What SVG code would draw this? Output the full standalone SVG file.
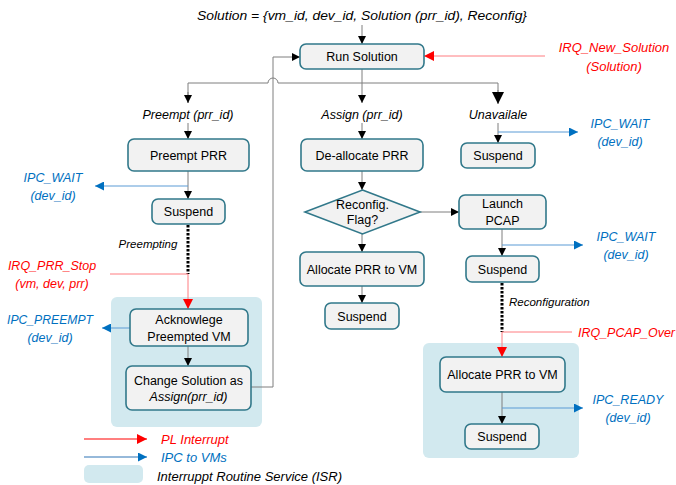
<svg xmlns="http://www.w3.org/2000/svg" width="676" height="485" viewBox="0 0 676 485">
<style>
text{font-family:"Liberation Sans",Arial,sans-serif;font-size:12.5px;fill:#000}
.c{text-anchor:middle}
.i{font-style:italic}
.red{fill:#ff0000}
.blue{fill:#0070c0}
.box{fill:#f2f2f2;stroke:#31788a;stroke-width:1.6}
.isr{fill:#d2e9ef}
.ln{fill:none;stroke:#7f7f7f;stroke-width:1}
.rl{fill:none;stroke:#ff7c80;stroke-width:1}
.bl{fill:none;stroke:#5b9bd5;stroke-width:1}
.dot{fill:none;stroke:#000;stroke-width:3;stroke-dasharray:2.5,1.5}
</style>
<defs>
<marker id="ab" viewBox="0 0 10 10" refX="10" refY="5" markerWidth="8" markerHeight="8" markerUnits="userSpaceOnUse" orient="auto"><path d="M0,0L10,5L0,10z" fill="#000"/></marker>
<marker id="abL" viewBox="0 0 10 10" refX="10" refY="5" markerWidth="12" markerHeight="12" markerUnits="userSpaceOnUse" orient="auto"><path d="M0,0L10,5L0,10z" fill="#000"/></marker>
<marker id="ar" viewBox="0 0 10 10" refX="10" refY="5" markerWidth="10" markerHeight="10" markerUnits="userSpaceOnUse" orient="auto"><path d="M0,0L10,5L0,10z" fill="#ff0000"/></marker>
<marker id="abl" viewBox="0 0 10 10" refX="10" refY="5" markerWidth="9" markerHeight="9" markerUnits="userSpaceOnUse" orient="auto"><path d="M0,0L10,5L0,10z" fill="#0070c0"/></marker>
</defs>

<g id="isr-bg">
<rect class="isr" x="111" y="297" width="151" height="130" rx="6"/>
<rect class="isr" x="423" y="343" width="156" height="115" rx="6"/>
</g>

<g id="connectors">
<line class="ln" x1="362" y1="25" x2="362" y2="44" marker-end="url(#ab)"/>
<line class="ln" x1="362" y1="69" x2="362" y2="83"/>
<path class="ln" d="M188,103 V83 H268 A5,5 0 0 1 278,83 H498 V103" />
<line class="ln" x1="188" y1="92" x2="188" y2="103" marker-end="url(#ab)"/>
<line class="ln" x1="362" y1="83" x2="362" y2="103" marker-end="url(#ab)"/>
<line class="ln" x1="498" y1="90" x2="498" y2="104" marker-end="url(#abL)"/>
<line class="ln" x1="188" y1="123" x2="188" y2="139" marker-end="url(#ab)"/>
<line class="ln" x1="362" y1="123" x2="362" y2="139" marker-end="url(#ab)"/>
<line class="ln" x1="498" y1="123" x2="498" y2="143" marker-end="url(#ab)"/>
<line class="ln" x1="188" y1="171" x2="188" y2="199" marker-end="url(#ab)"/>
<line class="dot" x1="188" y1="225" x2="188" y2="274"/>
<line class="rl" x1="188" y1="274" x2="188" y2="309" marker-end="url(#ar)"/>
<line class="rl" x1="110" y1="274" x2="188" y2="274"/>
<line class="ln" x1="188" y1="346" x2="188" y2="366" marker-end="url(#ab)"/>
<path class="ln" d="M251,387 H273 V57 H300" marker-end="url(#ab)"/>
<line class="ln" x1="362" y1="171" x2="362" y2="190" marker-end="url(#ab)"/>
<line class="ln" x1="420" y1="212" x2="459" y2="212" marker-end="url(#ab)"/>
<line class="ln" x1="362" y1="234" x2="362" y2="252" marker-end="url(#ab)"/>
<line class="ln" x1="362" y1="286" x2="362" y2="303" marker-end="url(#ab)"/>
<line class="ln" x1="502" y1="229" x2="502" y2="256" marker-end="url(#ab)"/>
<line class="dot" x1="502" y1="283" x2="502" y2="332"/>
<line class="rl" x1="502" y1="332" x2="502" y2="357" marker-end="url(#ar)"/>
<line class="rl" x1="502" y1="332" x2="572" y2="332"/>
<line class="ln" x1="502" y1="392" x2="502" y2="424" marker-end="url(#ab)"/>
<line class="rl" x1="545" y1="56" x2="424" y2="56" marker-end="url(#ar)"/>
<line class="bl" x1="498" y1="132" x2="578" y2="132" marker-end="url(#abl)"/>
<line class="bl" x1="188" y1="186" x2="95" y2="186" marker-end="url(#abl)"/>
<line class="bl" x1="130" y1="328" x2="102" y2="328" marker-end="url(#abl)"/>
<line class="bl" x1="502" y1="245" x2="583" y2="245" marker-end="url(#abl)"/>
<line class="bl" x1="502" y1="408" x2="583" y2="408" marker-end="url(#abl)"/>
</g>

<g id="title"><text class="c i" x="362" y="20" textLength="330" lengthAdjust="spacingAndGlyphs" style="font-size:13px">Solution = {vm_id, dev_id, Solution (prr_id), Reconfig}</text></g>

<g id="run-solution"><rect class="box" x="300" y="44" width="124" height="25" rx="6"/><text class="c" x="362" y="61">Run Solution</text></g>

<g id="labels-branch">
<text class="c i" x="188" y="119">Preempt (prr_id)</text>
<text class="c i" x="362" y="119">Assign (prr_id)</text>
<text class="c i" x="498" y="119">Unavailale</text>
</g>

<g id="preempt-prr"><rect class="box" x="128" y="139" width="121" height="32" rx="6"/><text class="c" x="188.5" y="159.5">Preempt PRR</text></g>
<g id="suspend-left"><rect class="box" x="152" y="199" width="73" height="25" rx="6"/><text class="c" x="188.5" y="216">Suspend</text></g>
<g id="acknowledge"><rect class="box" x="130" y="309" width="118" height="37" rx="6"/><text class="c" x="189" y="323.5">Acknowlege</text><text class="c" x="189" y="340.5">Preempted VM</text></g>
<g id="change-solution"><rect class="box" x="126" y="366" width="125" height="44" rx="6"/><text class="c" x="188.5" y="384.5">Change Solution as</text><text class="c i" x="188.5" y="400.5">Assign(prr_id)</text></g>

<g id="deallocate"><rect class="box" x="301" y="139" width="122" height="32" rx="6"/><text class="c" x="362" y="159.5">De-allocate PRR</text></g>
<g id="reconfig-flag"><polygon class="box" points="362.5,190 420,212 362.5,234 305,212"/><text class="c" x="362.5" y="208.5">Reconfig.</text><text class="c" x="362.5" y="223.5">Flag?</text></g>
<g id="allocate-mid"><rect class="box" x="300" y="252" width="124" height="34" rx="6"/><text class="c" x="362" y="273.5">Allocate PRR to VM</text></g>
<g id="suspend-mid"><rect class="box" x="325" y="303" width="74" height="26" rx="6"/><text class="c" x="362" y="320.5">Suspend</text></g>

<g id="suspend-unavail"><rect class="box" x="461" y="143" width="74" height="25" rx="6"/><text class="c" x="498" y="160">Suspend</text></g>
<g id="launch-pcap"><rect class="box" x="459" y="195" width="87" height="34" rx="6"/><text class="c" x="502.5" y="207.5">Launch</text><text class="c" x="502.5" y="224.5">PCAP</text></g>
<g id="suspend-right"><rect class="box" x="466" y="256" width="73" height="26" rx="6"/><text class="c" x="502.5" y="273.5">Suspend</text></g>
<g id="allocate-right"><rect class="box" x="440" y="357" width="125" height="35" rx="6"/><text class="c" x="502.5" y="379">Allocate PRR to VM</text></g>
<g id="suspend-bottom"><rect class="box" x="465" y="424" width="74" height="25" rx="6"/><text class="c" x="502" y="441">Suspend</text></g>

<g id="signals">
<text class="c i red" x="614" y="52" style="font-size:13px">IRQ_New_Solution</text>
<text class="c i red" x="614" y="71" style="font-size:13px">(Solution)</text>
<text class="c i blue" x="620" y="128">IPC_WAIT</text>
<text class="c i blue" x="620" y="146">(dev_id)</text>
<text class="c i blue" x="53" y="182">IPC_WAIT</text>
<text class="c i blue" x="53" y="200">(dev_id)</text>
<text class="c i" x="148" y="248" style="font-size:11.5px">Preempting</text>
<text class="c i red" x="52" y="270">IRQ_PRR_Stop</text>
<text class="c i red" x="52" y="288">(vm, dev, prr)</text>
<text class="c i blue" x="50" y="324" textLength="86" lengthAdjust="spacingAndGlyphs">IPC_PREEMPT</text>
<text class="c i blue" x="50" y="342">(dev_id)</text>
<text class="c i blue" x="626" y="241">IPC_WAIT</text>
<text class="c i blue" x="626" y="259">(dev_id)</text>
<text class="i" x="509" y="306" style="font-size:11.5px">Reconfiguration</text>
<text class="i red" x="578" y="337" textLength="97" lengthAdjust="spacingAndGlyphs">IRQ_PCAP_Over</text>
<text class="c i blue" x="628" y="404">IPC_READY</text>
<text class="c i blue" x="628" y="422">(dev_id)</text>
</g>

<g id="legend">
<line x1="84" y1="439" x2="147" y2="439" stroke="#ff0000" stroke-width="1.2" marker-end="url(#ar)"/>
<text class="i red" x="161" y="444" style="font-size:13px">PL Interrupt</text>
<line x1="84" y1="457" x2="147" y2="457" stroke="#2e75b6" stroke-width="1.2" marker-end="url(#abl)"/>
<text class="i blue" x="161" y="462" style="font-size:13px">IPC to VMs</text>
<rect class="isr" x="84" y="465" width="59" height="18" rx="5"/>
<text class="i" x="157" y="481" style="font-size:13px">Interruppt Routine Service (ISR)</text>
</g>
</svg>
